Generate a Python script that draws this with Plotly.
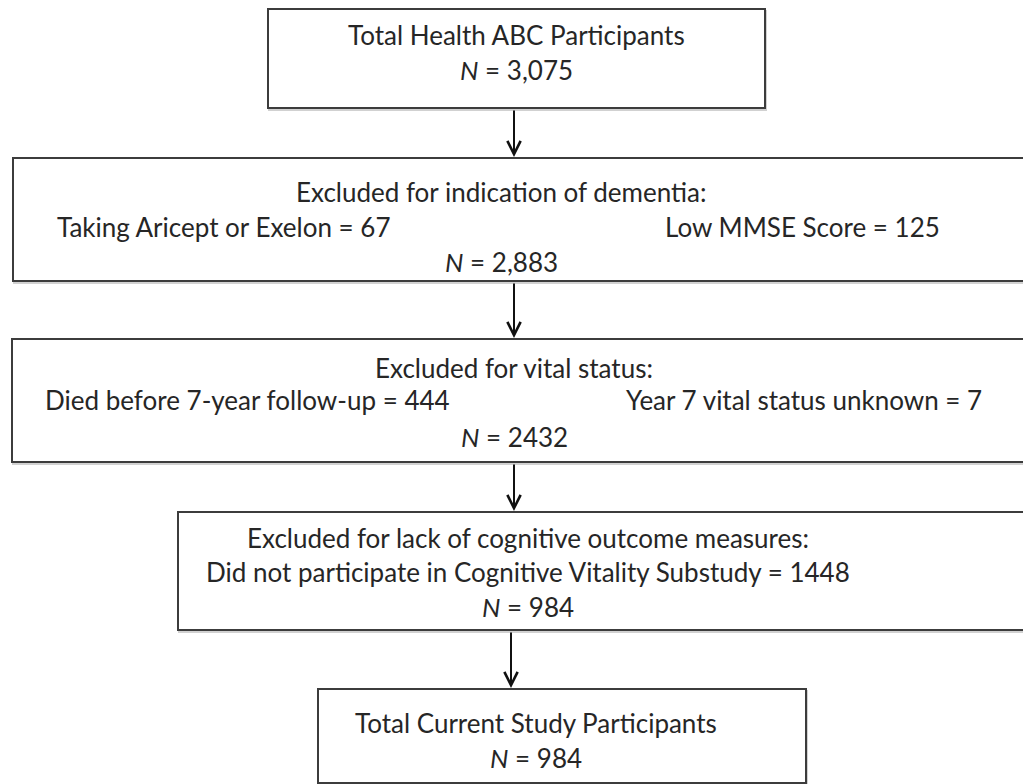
import plotly.graph_objects as go

# ---- data ----
stage_titles = [
    "Total Health ABC Participants",
    "Excluded for indication of dementia:",
    "Excluded for vital status:",
    "Excluded for lack of cognitive outcome measures:",
    "Total Current Study Participants",
]
remaining_n = ["3,075", "2,883", "2432", "984", "984"]
exclusion_labels = [
    [],
    ["Taking Aricept or Exelon", "Low MMSE Score"],
    ["Died before 7-year follow-up", "Year 7 vital status unknown"],
    ["Did not participate in Cognitive Vitality Substudy"],
    [],
]
exclusion_counts = [[], [67, 125], [444, 7], [1448], []]

# ---- layout geometry (page pixels) ----
W, H = 1031, 784
OFF = 8  # page body margin
boxes = [  # x0, x1, y0, y1
    (268, 765, 9, 108),
    (13, 1040, 158, 281),
    (12, 1040, 339, 462),
    (178, 1040, 512, 630),
    (318, 806, 689, 783),
]
text_cx = [516, 501, 514, 528, 536]
arrow_x = [514, 514, 514, 511]

FONT = "Lato"
FS = 26
TXT = "#262626"
EDGE = "#3c3c3c"

fig = go.Figure()
shapes = []
annotations = []

for i, (x0, x1, y0, y1) in enumerate(boxes):
    shapes.append(dict(type="rect", xref="x", yref="y", x0=x0 + 1, x1=x1 + 1, y0=y0 + 2, y1=y1 + 2,
                       line=dict(color="rgba(0,0,0,0.18)", width=2), fillcolor="rgba(0,0,0,0)", layer="below"))
    shapes.append(dict(type="rect", xref="x", yref="y", x0=x0, x1=x1, y0=y0, y1=y1,
                       line=dict(color=EDGE, width=2), fillcolor="white", layer="below"))

    n_text = "<i>N</i> = " + remaining_n[i]
    labels = exclusion_labels[i]
    counts = exclusion_counts[i]
    if len(labels) == 0:
        if i == 0:
            ys = [y0 + 26, y0 + 61]
        else:
            ys = [y0 + 34, y0 + 69]
        annotations.append(dict(x=text_cx[i], y=ys[0], text=stage_titles[i]))
        annotations.append(dict(x=text_cx[i], y=ys[1], text=n_text))
    else:
        ys = {1: [y0 + 34, y0 + 69, y0 + 104],
              2: [y0 + 29, y0 + 61, y0 + 98],
              3: [y0 + 26, y0 + 60, y0 + 95]}[i]
        annotations.append(dict(x=text_cx[i], y=ys[0], text=stage_titles[i]))
        if len(labels) == 2:
            left_x = {1: 55, 2: 43}[i]
            right_x = {1: 942, 2: 984}[i]
            annotations.append(dict(x=left_x, y=ys[1], xanchor="left",
                                    text=f"{labels[0]} = {counts[0]}"))
            annotations.append(dict(x=right_x, y=ys[1], xanchor="right",
                                    text=f"{labels[1]} = {counts[1]}"))
        else:
            annotations.append(dict(x=text_cx[i], y=ys[1], text=f"{labels[0]} = {counts[0]}"))
        annotations.append(dict(x=text_cx[i], y=ys[2], text=n_text))

for a in annotations:
    a.setdefault("xanchor", "center")
    a.update(xref="x", yref="y", yanchor="middle", showarrow=False,
             font=dict(family=FONT, size=FS, color=TXT))

# arrows
for i, ax_ in enumerate(arrow_x):
    y_start = boxes[i][3]
    y_end = boxes[i + 1][2]
    annotations.append(dict(x=ax_, y=y_end - 1, ax=ax_, ay=y_start + 1, xref="x", yref="y",
                            axref="x", ayref="y", text="", showarrow=True, arrowhead=5,
                            arrowsize=1.3, arrowwidth=2, arrowcolor="#111111"))

fig.update_layout(
    width=W, height=H,
    margin=dict(l=0, r=0, t=0, b=0),
    paper_bgcolor="white", plot_bgcolor="white",
    xaxis=dict(range=[OFF, W + OFF], visible=False, fixedrange=True),
    yaxis=dict(range=[H + OFF, OFF], visible=False, fixedrange=True),
    shapes=shapes, annotations=annotations, showlegend=False,
)
fig.write_html("out.html")
